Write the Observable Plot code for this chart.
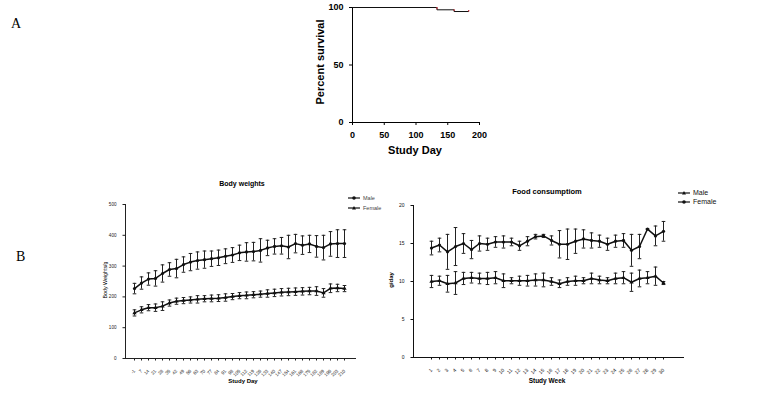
<!DOCTYPE html>
<html><head><meta charset="utf-8">
<script src="https://cdn.jsdelivr.net/npm/d3@7"></script>
<script src="https://cdn.jsdelivr.net/npm/@observablehq/plot@0.6"></script>
<style>
body{margin:0;background:#fff;font-family:"Liberation Sans",Arial,sans-serif;}
#wrap{position:relative;width:775px;height:412px;overflow:hidden;}
.panel{position:absolute;font-family:"Liberation Serif",serif;font-size:14px;color:#000;}
.ttl{position:absolute;font-weight:bold;transform:translate(-50%,-50%);white-space:nowrap;}
.leg{position:absolute;display:flex;align-items:center;gap:3px;white-space:nowrap;}
</style></head>
<body><div id="wrap"></div>
<script>
// ---------- data ----------
const survDays = [0, 133, 160, 183];
const survPct = [100, 98, 96.5, 96.5];

const bwDays = ["-1","7","14","21","28","35","42","49","56","63","70","77","84","91","98","105","112","119","126","133","140","147","154","161","168","175","182","189","196","203","210"];
const bwMale = [227,245,258,260,276,289,292,305,313,318,321,324,327,332,336,343,346,347,351,359,364,366,362,373,368,372,364,360,372,373,373];
const bwMaleSD = [17,20,20,25,28,22,30,25,28,28,28,25,25,24,24,25,30,30,38,25,25,27,38,30,30,28,35,40,40,45,45];
const bwFemale = [148,158,165,165,170,180,186,188,190,192,194,195,196,198,201,204,205,207,209,211,213,215,216,217,218,219,219,213,228,229,227];
const bwFemaleSD = [10,10,10,12,14,10,10,10,10,12,10,11,11,12,10,10,11,10,10,12,12,12,12,12,12,12,14,14,14,12,10];

const fcWeeks = ["1","2","3","4","5","6","7","8","9","10","11","12","13","14","15","16","17","18","19","20","21","22","23","24","25","26","27","28","29","30"];
const fcMale = [14.4,14.8,13.9,14.6,15.0,14.2,15.0,14.9,15.2,15.2,15.2,14.7,15.3,15.9,16.0,15.4,14.9,14.9,15.3,15.6,15.4,15.3,14.9,15.3,15.4,14.1,14.6,16.9,16.0,16.6];
const fcMaleSD = [0.9,0.9,2.3,2.5,1.3,1.2,1.0,0.8,0.7,0.8,0.5,0.6,0.6,0.3,0.2,0.6,1.8,2.0,1.6,1.2,1.0,0.8,0.8,0.8,0.9,2.1,1.6,0,1.3,1.3];
const fcFemale = [10.0,10.1,9.7,9.8,10.4,10.5,10.4,10.4,10.5,10.1,10.1,10.1,10.1,10.2,10.2,10.0,9.7,10.0,10.1,10.1,10.4,10.2,10.1,10.4,10.5,9.9,10.4,10.5,10.7,9.8];
const fcFemaleSD = [0.8,0.6,1.1,1.5,0.8,0.7,0.7,0.8,0.8,0.9,0.4,0.6,0.7,0.8,0.9,0.5,0.5,0.5,0.6,0.4,0.7,0.5,0.4,0.7,0.8,1.2,1.1,0.8,1.2,0.2];

// ---------- helpers ----------
const wrap = document.getElementById("wrap");
function place(el, left, top){ el.style.position="absolute"; el.style.left=left+"px"; el.style.top=top+"px"; wrap.appendChild(el); return el; }
function addText(txt, x, y, css){ const d=document.createElement("div"); d.className="ttl"; d.textContent=txt; d.style.left=x+"px"; d.style.top=y+"px"; Object.assign(d.style, css||{}); wrap.appendChild(d); return d; }

const cap = {draw(ctx, size){ const w = Math.sqrt(size/Math.PI); ctx.moveTo(-w,0); ctx.lineTo(w,0); }};

function rows(xs, male, maleSD, female, femaleSD){
  return [
    ...xs.map((x,i)=>({x, sex:"Male", y:male[i], sd:maleSD[i]})),
    ...xs.map((x,i)=>({x, sex:"Female", y:female[i], sd:femaleSD[i]}))
  ];
}
function seriesMarks(data, lw, r){
  return [
    Plot.ruleX(data, {x:"x", y1:d=>d.y-d.sd, y2:d=>d.y+d.sd, stroke:"#222", strokeWidth:1}),
    Plot.dot(data, {x:"x", y:d=>d.y-d.sd, symbol:()=>cap, r:1.8, stroke:"#222", strokeWidth:1, fill:"none"}),
    Plot.dot(data, {x:"x", y:d=>d.y+d.sd, symbol:()=>cap, r:1.8, stroke:"#222", strokeWidth:1, fill:"none"}),
    Plot.line(data, {x:"x", y:"y", z:"sex", stroke:"#111", strokeWidth:lw}),
    Plot.dot(data, {x:"x", y:"y", symbol:"sex", r:r, fill:"#111", stroke:"none"})
  ];
}

// ---------- Panel A: survival ----------
const survData = survDays.map((d,i)=>({day:d, pct:survPct[i]}));
const drops = survDays.slice(1).map((d,i)=>({day:d, y1: i+1<survDays.length-1 ? survPct[i] : survPct[i+1]+1, y2: survPct[i+1]-(i+1<survDays.length-1?0:0.5)}));
const survPlot = Plot.plot({
  width:200, height:160, marginLeft:52, marginRight:21, marginTop:7, marginBottom:38,
  style:{fontFamily:"Liberation Sans, Arial, sans-serif", fontSize:"9px", fontWeight:"bold", color:"#000", background:"transparent"},
  x:{domain:[0,200], ticks:[0,50,100,150,200], label:null, tickSize:3, line:true},
  y:{domain:[0,100], ticks:[0,50,100], label:null, tickSize:3, line:true},
  marks:[
    Plot.line(survData, {x:"day", y:"pct", curve:"step-after", stroke:"#111", strokeWidth:1}),
    Plot.ruleX(drops, {x:"day", y1:"y1", y2:"y2", stroke:"#c0303a", strokeWidth:1.2})
  ]
});
place(survPlot, 300, 0);
addText("Percent survival", 320, 62, {fontSize:"11px", transform:"translate(-50%,-50%) rotate(-90deg)"});
addText("Study Day", 415, 150, {fontSize:"11px"});

// panel letters
const A = document.createElement("div"); A.className="panel"; A.textContent="A"; place(A, 11, 16);
const B = document.createElement("div"); B.className="panel"; B.textContent="B"; place(B, 16, 249);

// ---------- Panel B1: body weights ----------
const bwData = rows(bwDays, bwMale, bwMaleSD, bwFemale, bwFemaleSD);
const bwPlot = Plot.plot({
  width:300, height:240, marginLeft:25, marginRight:45, marginTop:34, marginBottom:52,
  style:{fontFamily:"Liberation Sans, Arial, sans-serif", fontSize:"4.6px", color:"#222", background:"transparent"},
  x:{type:"point", domain:bwDays, range:[29,249], label:null, tickRotate:-45, tickSize:2.5, line:true},
  y:{domain:[0,500], ticks:[0,100,200,300,400,500], label:null, tickSize:2.5, line:true},
  symbol:{domain:["Male","Female"], range:["circle","triangle"]},
  marks: seriesMarks(bwData, 1.5, 1.6)
});
place(bwPlot, 100, 170);
addText("Body weights", 242, 183, {fontSize:"7px"});
addText("Body Weights/g", 105, 280, {fontSize:"5.3px", fontWeight:"normal", transform:"translate(-50%,-50%) rotate(-90deg)"});
addText("Study Day", 243, 381, {fontSize:"6px"});

// ---------- Panel B2: food consumption ----------
const fcData = rows(fcWeeks, fcMale, fcMaleSD, fcFemale, fcFemaleSD);
const fcPlot = Plot.plot({
  width:340, height:240, marginLeft:43, marginRight:27, marginTop:35, marginBottom:53,
  style:{fontFamily:"Liberation Sans, Arial, sans-serif", fontSize:"5px", color:"#111", background:"transparent"},
  x:{type:"point", domain:fcWeeks, range:[48,306], label:null, tickRotate:-45, tickSize:2.5, line:true},
  y:{domain:[0,20], ticks:[0,5,10,15,20], label:null, tickSize:2.5, line:true},
  symbol:{domain:["Male","Female"], range:["circle","triangle"]},
  marks: seriesMarks(fcData, 1.5, 1.6)
});
place(fcPlot, 370, 170);
addText("Food consumptiom", 547, 191, {fontSize:"7.5px"});
addText("g/day", 391, 280, {fontSize:"6px", transform:"translate(-50%,-50%) rotate(-90deg)"});
addText("Study Week", 547, 380, {fontSize:"6.5px"});

// ---------- legends ----------
function legend(x, y, sex, sym, size, color){
  const d = document.createElement("div"); d.className="leg";
  d.style.fontSize = size+"px"; d.style.color = color;
  d.innerHTML = `<svg width="12" height="6"><line x1="0" y1="3" x2="12" y2="3" stroke="#111" stroke-width="1.2"/>${sym==="circle"?'<circle cx="6" cy="3" r="1.8" fill="#111"/>':'<path d="M6,1 L8,4.6 L4,4.6Z" fill="#111"/>'}</svg><span>${sex}</span>`;
  place(d, x, y);
}
legend(348, 195, "Male", "circle", 5.5, "#444");
legend(348, 205, "Female", "triangle", 5.5, "#444");
legend(678, 189, "Male", "triangle", 7, "#111");
legend(678, 198, "Female", "circle", 7, "#111");
</script></body></html>
